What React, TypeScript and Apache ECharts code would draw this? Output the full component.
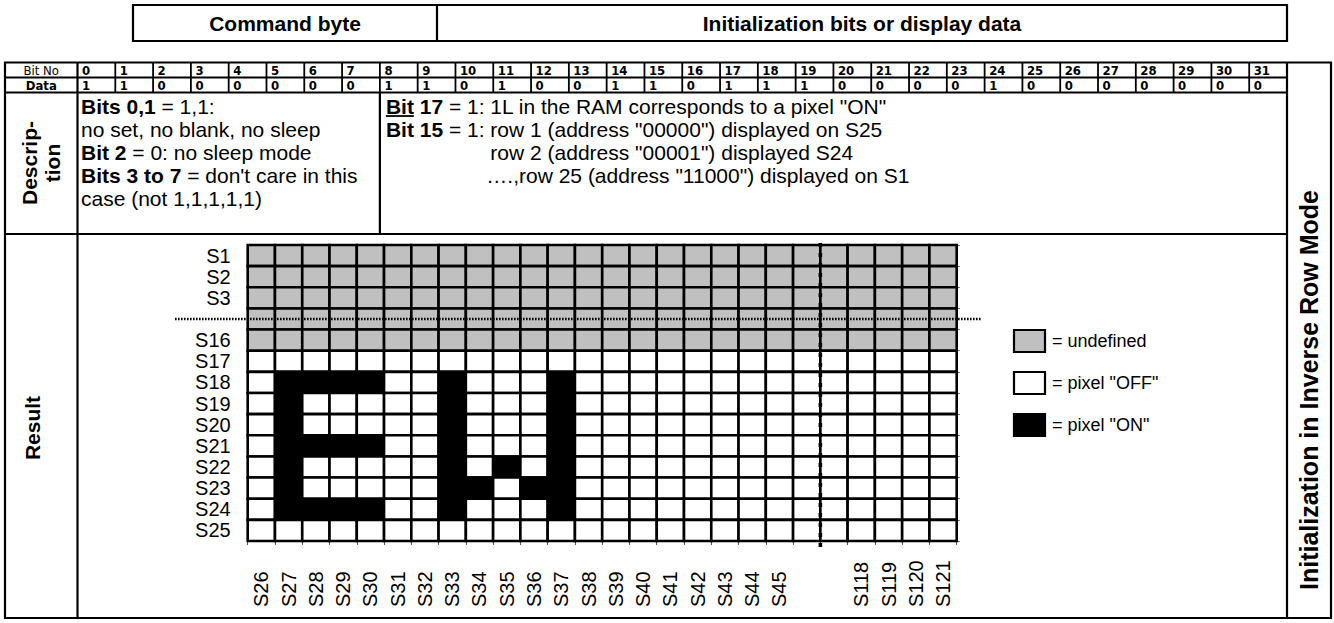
import React, { useEffect, useRef } from 'react';
import * as echarts from 'echarts';

// ---------- data ----------
const columnLabels = ['S26','S27','S28','S29','S30','S31','S32','S33','S34','S35','S36','S37','S38','S39','S40','S41','S42','S43','S44','S45','','','S118','S119','S120','S121'];
const rowLabels = ['S1','S2','S3','','S16','S17','S18','S19','S20','S21','S22','S23','S24','S25'];
const bitNumbers = ['0','1','2','3','4','5','6','7','8','9','10','11','12','13','14','15','16','17','18','19','20','21','22','23','24','25','26','27','28','29','30','31'];
const bitValues = [1,1,0,0,0,0,0,0,1,1,0,1,0,0,1,1,0,1,1,1,0,0,0,0,1,0,0,0,0,0,0,0];
// U = undefined, 0 = pixel OFF, 1 = pixel ON
const pixelRows = [
  'UUUUUUUUUUUUUUUUUUUUUUUUUU', // S1
  'UUUUUUUUUUUUUUUUUUUUUUUUUU', // S2
  'UUUUUUUUUUUUUUUUUUUUUUUUUU', // S3
  'UUUUUUUUUUUUUUUUUUUUUUUUUU', // ...
  'UUUUUUUUUUUUUUUUUUUUUUUUUU', // S16
  '00000000000000000000000000', // S17
  '01111001000100000000000000', // S18
  '01000001000100000000000000', // S19
  '01000001000100000000000000', // S20
  '01111001000100000000000000', // S21
  '01000001010100000000000000', // S22
  '01000001101100000000000000', // S23
  '01111001000100000000000000', // S24
  '00000000000000000000000000', // S25
];
const stateColors = ['#c0c0c0', '#ffffff', '#000000'];
const legendItems = ['= undefined', '= pixel "OFF"', '= pixel "ON"'];
const descLeft = ['{b|Bits 0,1} = 1,1:', 'no set, no blank, no sleep', '{b|Bit 2} = 0: no sleep mode', "{b|Bits 3 to 7} = don't care in this", 'case (not 1,1,1,1,1)'];

const F = "'Liberation Sans', Arial, Helvetica, sans-serif";
const FN = "'Liberation Sans Narrow', 'Arial Narrow', 'DejaVu Sans Condensed', sans-serif";

const stateIndex = (ch: string) => (ch === 'U' ? 0 : ch === '0' ? 1 : 2);
const cellData: number[][] = [];
pixelRows.forEach((row, r) => row.split('').forEach((ch, c) => cellData.push([c, r, stateIndex(ch)])));

function measure(text: string, font: string) {
  const ctx = document.createElement('canvas').getContext('2d')!;
  ctx.font = font;
  return ctx.measureText(text).width;
}

const L = (x1: number, y1: number, x2: number, y2: number, w = 2, extra: any = {}) => ({
  type: 'line', silent: true, z: 50,
  shape: { x1, y1, x2, y2 },
  style: { stroke: '#000', lineWidth: w, ...extra },
});

const T = (x: number, y: number, text: string, o: any = {}) => ({
  type: 'text', silent: true, z: 60, x, y,
  rotation: o.rotation || 0,
  style: {
    text,
    fill: '#000',
    fontSize: o.size || 21,
    fontFamily: o.family || F,
    fontWeight: o.weight || 'normal',
    align: o.align || 'left',
    verticalAlign: o.valign || 'middle',
    lineHeight: o.lineHeight,
    rich: {
      b: { fontSize: o.size || 21, fontFamily: o.family || F, fontWeight: 'bold', fill: '#000' },
    },
  },
});

export default function App() {
  const ref = useRef<HTMLDivElement>(null);
  useEffect(() => {
    const chart = echarts.init(ref.current!, null, { renderer: 'svg' });
    const option: any = {
      animation: false,
      backgroundColor: '#ffffff',
      grid: { left: 247.7, top: 245, width: 709, height: 296, containLabel: false },
      xAxis: {
        type: 'category',
        data: columnLabels,
        position: 'bottom',
        boundaryGap: true,
        axisLine: { show: false },
        axisTick: { show: true, length: 4, lineStyle: { color: '#555', width: 1 } },
        axisLabel: {
          interval: 0, rotate: 90, align: 'left', verticalAlign: 'middle', margin: 66,
          fontSize: 20, fontFamily: F, color: '#000',
        },
        splitLine: { show: false },
      },
      yAxis: [
        {
          type: 'category', data: rowLabels, inverse: true,
          axisLine: { show: false }, axisTick: { show: false },
          axisLabel: { interval: 0, margin: 17, fontSize: 20, fontFamily: F, color: '#000' },
          splitLine: { show: false },
        },
        {
          type: 'category', data: rowLabels, inverse: true, position: 'right',
          axisLine: { show: false },
          axisTick: { show: true, length: 3, lineStyle: { color: '#555', width: 1 } },
          axisLabel: { show: false }, splitLine: { show: false },
        },
      ],
      series: [
        {
          type: 'custom',
          clip: false,
          xAxisIndex: 0,
          yAxisIndex: 0,
          encode: { x: 0, y: 1 },
          data: cellData,
          renderItem: (_p: any, api: any) => {
            const c = api.coord([api.value(0), api.value(1)]);
            const s = api.size([1, 1]);
            return {
              type: 'rect',
              shape: { x: c[0] - s[0] / 2, y: c[1] - s[1] / 2, width: s[0], height: s[1] },
              style: { fill: stateColors[api.value(2)], stroke: '#000', lineWidth: 2.6 },
            };
          },
        },
      ],
    };
    chart.setOption(option);

    const px = (c: number, r: number) => chart.convertToPixel({ gridIndex: 0 }, [c, r]) as number[];
    const dotY = px(0, 3)[1];
    const gapX = (px(20, 0)[0] + px(21, 0)[0]) / 2;

    const X0 = 5, XB = 77.5, XR = 1287, XE = 1331;
    const W = (XR - XB) / 32;
    const Y0 = 62.5, Y1 = 77.5, Y2 = 92.5, Y3 = 234, YE = 618;
    const g: any[] = [];

    // top header box
    g.push({ type: 'rect', silent: true, z: 50, shape: { x: 133, y: 5, width: XR - 133, height: 36 }, style: { fill: 'none', stroke: '#000', lineWidth: 2.2 } });
    g.push(L(437, 5, 437, 41, 2.2));
    g.push(T(285, 23.5, 'Command byte', { align: 'center', weight: 'bold', size: 21 }));
    g.push(T(862, 23.5, 'Initialization bits or display data', { align: 'center', weight: 'bold', size: 21 }));

    // main table frame
    g.push({ type: 'rect', silent: true, z: 50, shape: { x: X0, y: Y0, width: XE - X0, height: YE - Y0 }, style: { fill: 'none', stroke: '#000', lineWidth: 2.2 } });
    g.push(L(X0, Y1, XR, Y1, 1.8));
    g.push(L(X0, Y2, XR, Y2, 2.2));
    g.push(L(X0, Y3, XR, Y3, 2.2));
    g.push(L(XB, Y0, XB, YE, 2.2));
    g.push(L(XR, Y0, XR, YE, 2.2));
    for (let i = 1; i < 32; i++) g.push(L(XB + i * W, Y0, XB + i * W, Y2, 1.8));
    const XD = XB + 8 * W;
    g.push(L(XD, Y2, XD, Y3, 2.2));

    // header row texts
    const hy0 = (Y0 + Y1) / 2 + 0.5;
    const hy1 = (Y1 + Y2) / 2 + 0.5;
    g.push(T((X0 + XB) / 2, hy0, 'Bit No', { align: 'center', family: FN, size: 13 }));
    g.push(T((X0 + XB) / 2, hy1, 'Data', { align: 'center', family: FN, size: 13, weight: 'bold' }));
    bitNumbers.forEach((b, i) => g.push(T(XB + i * W + 4.5, hy0, b, { family: FN, size: 13, weight: 'bold' })));
    bitValues.forEach((v, i) => g.push(T(XB + i * W + 4.5, hy1, String(v), { family: FN, size: 13, weight: 'bold' })));

    // side labels
    g.push(T(41, 163, 'Descrip-\ntion', { align: 'center', weight: 'bold', size: 21, rotation: Math.PI / 2, lineHeight: 23 }));
    g.push(T(32, 428, 'Result', { align: 'center', weight: 'bold', size: 21, rotation: Math.PI / 2 }));
    g.push(T(1309, 390, 'Initialization in Inverse Row Mode', { align: 'center', weight: 'bold', size: 25, rotation: Math.PI / 2 }));

    // description left
    const lineYs = [106, 129, 152, 175, 198];
    descLeft.forEach((t, i) => g.push(T(81, lineYs[i], t)));

    // description right
    const xr = XD + 6;
    g.push(T(xr, lineYs[0], '{b|Bit 17} = 1: 1L in the RAM corresponds to a pixel "ON"'));
    const bitW = measure('Bit', 'bold 21px ' + F);
    g.push(L(xr, lineYs[0] + 10, xr + bitW, lineYs[0] + 10, 1.8));
    g.push(T(xr, lineYs[1], '{b|Bit 15} = 1: row 1 (address "00000") displayed on S25'));
    const rowX = xr + measure('Bit 15', 'bold 21px ' + F) + measure(' = 1: ', '21px ' + F);
    g.push(T(rowX, lineYs[2], 'row 2 (address "00001") displayed S24'));
    g.push(T(rowX - 4, lineYs[3], '\u2026.,row 25 (address "11000") displayed on S1'));

    // legend
    const legendYs = [341, 383, 425];
    legendItems.forEach((t, i) => {
      g.push({
        type: 'rect', silent: true, z: 50,
        shape: { x: 1014, y: legendYs[i] - 11, width: 31, height: 22 },
        style: { fill: stateColors[i], stroke: '#000', lineWidth: 2.2 },
      });
      g.push(T(1052, legendYs[i], t, { size: 18 }));
    });

    // dotted break lines
    g.push(L(175, dotY, 982, dotY, 2.6, { lineDash: [1.6, 1.4] }));
    g.push(L(gapX, 243, gapX, 553, 3.6, { lineDash: [4, 6] }));

    chart.setOption({ graphic: { elements: g } });
    return () => chart.dispose();
  }, []);
  return <div ref={ref} style={{ position: 'absolute', left: 0, top: 0, width: 1334, height: 623, background: '#fff' }} />;
}
